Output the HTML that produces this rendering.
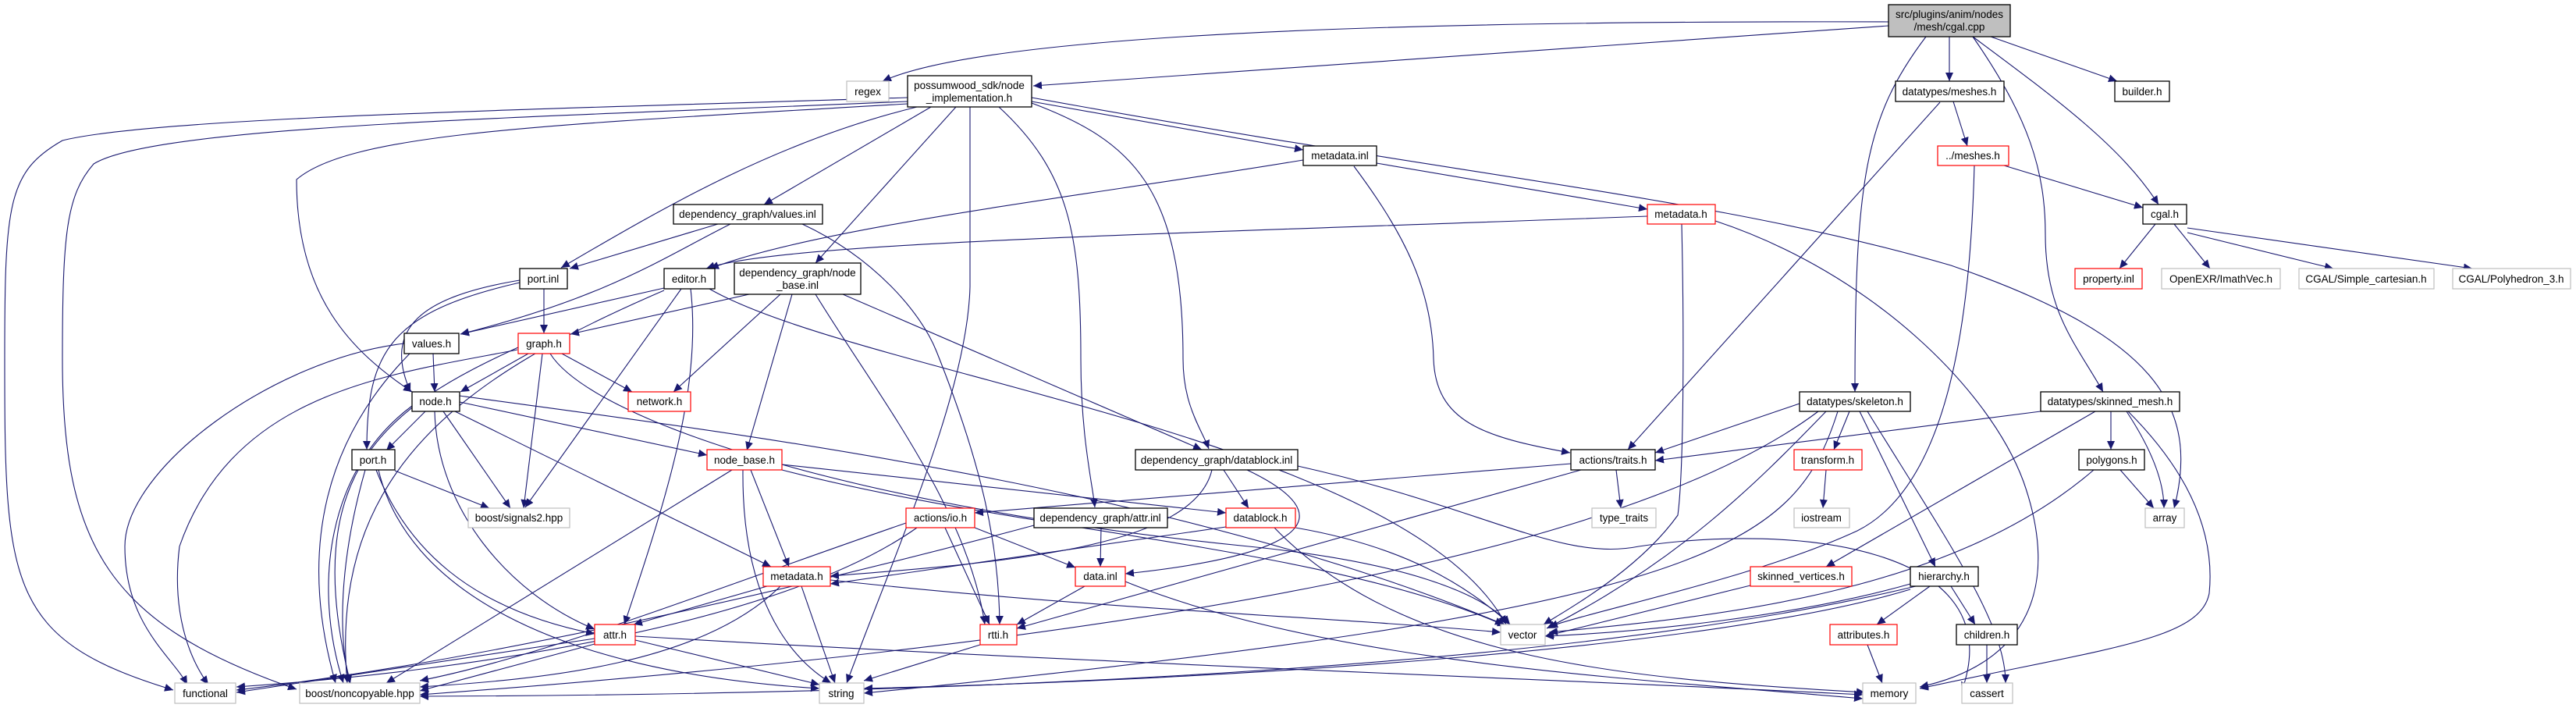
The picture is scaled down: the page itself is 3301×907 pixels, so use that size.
<!DOCTYPE html>
<html><head><meta charset="utf-8"><style>
html,body{margin:0;padding:0;background:#fff;}
svg{display:block;}
text{font-family:"Liberation Sans",sans-serif;font-size:13.5px;fill:#000;text-anchor:middle;}
.e{fill:none;stroke:#191970;stroke-width:1.1;marker-end:url(#a);}
.n{fill:#fff;stroke:#000;stroke-width:1.3;}
.r{fill:#fff;stroke:#ff0000;stroke-width:1.2;}
.g{fill:#fff;stroke:#bfbfbf;stroke-width:1.2;}
</style></head><body>
<svg width="3301" height="907" viewBox="0 0 3301 907" xmlns="http://www.w3.org/2000/svg">
<defs><marker id="a" markerUnits="userSpaceOnUse" markerWidth="12" markerHeight="10" refX="11" refY="5" orient="auto"><path d="M0,0 L11,5 L0,10 Z" fill="#191970"/></marker></defs>
<g>
<path class="e" d="M2420,28 C1700,26 1250,50 1131,104"/>
<path class="e" d="M2420,33 L1324,110"/>
<path class="e" d="M2498,47 L2498,104"/>
<path class="e" d="M2551,47 L2713,104"/>
<path class="e" d="M2528,47 C2640,130 2720,190 2766,262"/>
<path class="e" d="M2468,47 C2390,150 2377,230 2377,502"/>
<path class="e" d="M2528,47 C2600,150 2621,220 2621,300 C2621,400 2660,440 2695,502"/>
<path class="e" d="M2503,130 L2521,187"/>
<path class="e" d="M2486,131 L2086,576"/>
<path class="e" d="M2568,212 L2746,266"/>
<path class="e" d="M2530,212 C2525,400 2500,620 2380,680 C2250,740 2050,780 1985,803"/>
<path class="e" d="M2762,287 L2716,344"/>
<path class="e" d="M2786,287 L2832,344"/>
<path class="e" d="M2803,298 L2990,344"/>
<path class="e" d="M2803,292 L3168,344"/>
<path class="e" d="M1764,209 L2111,268"/>
<path class="e" d="M1670,205 C1400,250 1050,290 910,344"/>
<path class="e" d="M1735,213 C1800,300 1835,370 1837,460 C1840,540 1900,560 2012,580"/>
<path class="e" d="M2111,277 C1500,300 1000,310 905,344"/>
<path class="e" d="M2155,287 C2158,420 2158,600 2150,660 C2100,730 2010,780 1978,800"/>
<path class="e" d="M2198,283 C2400,350 2550,500 2593,617 C2640,750 2600,850 2460,880"/>
<path class="e" d="M1163,125 C700,140 200,150 80,180 C10,220 6,260 6,460 C6,750 10,820 222,884"/>
<path class="e" d="M1163,130 C700,150 200,160 120,210 C85,250 80,300 80,460 C80,700 140,800 380,883"/>
<path class="e" d="M1163,133 C700,160 450,170 380,230 C380,380 450,450 528,502"/>
<path class="e" d="M1243,137 L1243,367 C1240,500 1150,700 1085,875"/>
<path class="e" d="M1175,137 C1000,180 860,260 719,343"/>
<path class="e" d="M1193,137 L979,262"/>
<path class="e" d="M1225,137 L1045,337"/>
<path class="e" d="M1322,130 L1670,192"/>
<path class="e" d="M1322,132 C1450,180 1516,240 1516,460 C1516,520 1540,550 1549,575"/>
<path class="e" d="M1280,137 C1370,220 1385,300 1385,460 C1385,560 1400,620 1403,650"/>
<path class="e" d="M1322,125 C1900,230 2200,253 2500,340 C2761,430 2820,520 2786,651"/>
<path class="e" d="M920,287 L730,344"/>
<path class="e" d="M936,287 C850,330 780,380 590,428"/>
<path class="e" d="M1028,287 C1120,330 1180,400 1200,450 C1260,600 1280,700 1281,800"/>
<path class="e" d="M697,370 L697,427"/>
<path class="e" d="M666,359 C540,380 490,420 526,502"/>
<path class="e" d="M666,362 C500,400 470,450 470,576"/>
<path class="e" d="M851,369 L590,428"/>
<path class="e" d="M851,372 C600,480 420,600 445,875"/>
<path class="e" d="M873,370 L673,650"/>
<path class="e" d="M885,370 C900,500 850,650 800,800"/>
<path class="e" d="M909,370 C1100,480 1800,560 1930,800"/>
<path class="e" d="M960,377 L731,428"/>
<path class="e" d="M1000,377 L863,502"/>
<path class="e" d="M1015,377 L957,577"/>
<path class="e" d="M1045,377 C1120,500 1240,650 1262,800"/>
<path class="e" d="M1080,377 L1540,576"/>
<path class="e" d="M677,453 L590,502"/>
<path class="e" d="M720,453 L810,502"/>
<path class="e" d="M695,453 L671,651"/>
<path class="e" d="M664,445 C500,520 380,600 449,875"/>
<path class="e" d="M663,448 C500,480 300,500 230,700 C220,780 240,840 267,877"/>
<path class="e" d="M705,453 C760,540 1100,650 1600,700 C1800,720 1900,760 1935,800"/>
<path class="e" d="M555,453 L557,502"/>
<path class="e" d="M518,440 C350,460 160,600 160,700 C160,800 220,840 240,877"/>
<path class="e" d="M525,453 C420,560 380,700 430,875"/>
<path class="e" d="M545,527 L495,577"/>
<path class="e" d="M568,527 L654,651"/>
<path class="e" d="M528,520 C420,600 400,750 440,875"/>
<path class="e" d="M557,527 C560,650 650,760 762,806"/>
<path class="e" d="M583,527 L988,726"/>
<path class="e" d="M589,515 L906,583"/>
<path class="e" d="M589,507 C900,550 1500,620 1927,800"/>
<path class="e" d="M506,603 L627,651"/>
<path class="e" d="M468,602 C440,700 430,800 448,875"/>
<path class="e" d="M482,602 C520,700 600,780 762,812"/>
<path class="e" d="M485,602 C520,750 700,860 1050,882"/>
<path class="e" d="M938,602 L495,875"/>
<path class="e" d="M962,602 L1011,726"/>
<path class="e" d="M952,602 C950,800 1040,860 1065,875"/>
<path class="e" d="M1002,595 L1571,657"/>
<path class="e" d="M1002,602 C1300,680 1700,700 1930,802"/>
<path class="e" d="M983,751 L812,800"/>
<path class="e" d="M1027,751 L1070,875"/>
<path class="e" d="M1000,751 C900,850 700,870 538,880"/>
<path class="e" d="M1064,743 C1400,780 1700,790 1923,810"/>
<path class="e" d="M762,818 L303,887"/>
<path class="e" d="M762,825 L538,885"/>
<path class="e" d="M814,820 L1050,877"/>
<path class="e" d="M814,815 C1400,850 2000,870 2387,890"/>
<path class="e" d="M1256,826 L1107,872"/>
<path class="e" d="M1390,751 L1303,800"/>
<path class="e" d="M1442,745 C1700,850 2100,870 2387,895"/>
<path class="e" d="M1211,676 L1268,800"/>
<path class="e" d="M1249,676 L1378,727"/>
<path class="e" d="M1161,670 C900,760 700,840 538,872"/>
<path class="e" d="M1175,676 C1000,800 600,860 303,880"/>
<path class="e" d="M1411,676 L1410,726"/>
<path class="e" d="M1325,673 C1000,760 600,850 303,884"/>
<path class="e" d="M1571,675 L1064,748"/>
<path class="e" d="M1660,676 C1800,700 1880,750 1935,800"/>
<path class="e" d="M1633,676 C1800,850 2100,870 2390,887"/>
<path class="e" d="M1568,602 L1600,651"/>
<path class="e" d="M1598,602 C1720,660 1680,710 1442,735"/>
<path class="e" d="M1553,602 C1530,700 1300,720 1064,738"/>
<path class="e" d="M1663,597 C1900,650 2000,720 2100,700 C2300,670 2580,700 2514,885"/>
<path class="e" d="M2071,602 L2077,651"/>
<path class="e" d="M2013,594 L1249,657"/>
<path class="e" d="M2026,602 L1303,805"/>
<path class="e" d="M2306,517 L2121,580"/>
<path class="e" d="M2370,527 L2350,576"/>
<path class="e" d="M2383,527 L2480,726"/>
<path class="e" d="M2340,527 C2250,620 2150,720 1982,805"/>
<path class="e" d="M2330,527 C2100,700 1500,820 538,890"/>
<path class="e" d="M2355,527 C2300,700 2200,780 1107,888"/>
<path class="e" d="M2393,527 C2500,700 2570,800 2570,875"/>
<path class="e" d="M2615,527 L2121,590"/>
<path class="e" d="M2705,527 L2705,576"/>
<path class="e" d="M2725,527 C2760,580 2773,620 2773,651"/>
<path class="e" d="M2685,527 L2340,726"/>
<path class="e" d="M2727,527 C2820,620 2837,700 2831,760 C2820,820 2700,830 2460,882"/>
<path class="e" d="M2340,602 L2336,651"/>
<path class="e" d="M2717,602 L2760,651"/>
<path class="e" d="M2683,602 C2500,760 2200,790 1985,810"/>
<path class="e" d="M2243,750 L1980,815"/>
<path class="e" d="M2448,748 C2300,790 2100,810 1980,815"/>
<path class="e" d="M2473,751 L2405,800"/>
<path class="e" d="M2500,751 L2531,800"/>
<path class="e" d="M2448,755 C2200,830 1600,870 1107,882"/>
<path class="e" d="M2455,751 C2000,860 1200,890 538,892"/>
<path class="e" d="M2393,826 L2412,875"/>
<path class="e" d="M2546,826 L2546,875"/>
</g>
<rect x="2420" y="6" width="156" height="41" fill="#bfbfbf" stroke="#000" stroke-width="1.3"/>
<text x="2498" y="23">src/plugins/anim/nodes</text><text x="2498" y="39">/mesh/cgal.cpp</text>
<rect class="g" x="1085" y="104" width="54" height="26"/><text x="1112" y="122">regex</text>
<rect class="n" x="1163" y="97" width="159" height="40"/><text x="1242" y="114">possumwood_sdk/node</text><text x="1242" y="130">_implementation.h</text>
<rect class="n" x="2429" y="104" width="139" height="26"/><text x="2498" y="122">datatypes/meshes.h</text>
<rect class="n" x="2710" y="104" width="70" height="26"/><text x="2745" y="122">builder.h</text>
<rect class="r" x="2483" y="187" width="91" height="25"/><text x="2528" y="204">../meshes.h</text>
<rect class="n" x="1670" y="187" width="94" height="25"/><text x="1717" y="204">metadata.inl</text>
<rect class="r" x="2111" y="262" width="87" height="25"/><text x="2154" y="279">metadata.h</text>
<rect class="n" x="2746" y="262" width="56" height="25"/><text x="2774" y="279">cgal.h</text>
<rect class="n" x="863" y="262" width="191" height="25"/><text x="958" y="279">dependency_graph/values.inl</text>
<rect class="r" x="2659" y="344" width="86" height="26"/><text x="2702" y="362">property.inl</text>
<rect class="g" x="2770" y="344" width="152" height="26"/><text x="2846" y="362">OpenEXR/ImathVec.h</text>
<rect class="g" x="2946" y="344" width="173" height="26"/><text x="3032" y="362">CGAL/Simple_cartesian.h</text>
<rect class="g" x="3143" y="344" width="151" height="26"/><text x="3218" y="362">CGAL/Polyhedron_3.h</text>
<rect class="n" x="666" y="344" width="61" height="26"/><text x="696" y="362">port.inl</text>
<rect class="n" x="851" y="344" width="65" height="26"/><text x="883" y="362">editor.h</text>
<rect class="n" x="941" y="337" width="162" height="40"/><text x="1022" y="354">dependency_graph/node</text><text x="1022" y="370">_base.inl</text>
<rect class="n" x="518" y="427" width="70" height="26"/><text x="553" y="445">values.h</text>
<rect class="r" x="664" y="427" width="66" height="26"/><text x="697" y="445">graph.h</text>
<rect class="n" x="528" y="502" width="61" height="25"/><text x="558" y="519">node.h</text>
<rect class="r" x="805" y="502" width="80" height="25"/><text x="845" y="519">network.h</text>
<rect class="n" x="2306" y="502" width="142" height="25"/><text x="2377" y="519">datatypes/skeleton.h</text>
<rect class="n" x="2615" y="502" width="178" height="25"/><text x="2704" y="519">datatypes/skinned_mesh.h</text>
<rect class="n" x="451" y="576" width="55" height="26"/><text x="478" y="594">port.h</text>
<rect class="r" x="906" y="576" width="96" height="26"/><text x="954" y="594">node_base.h</text>
<rect class="n" x="1455" y="576" width="208" height="26"/><text x="1559" y="594">dependency_graph/datablock.inl</text>
<rect class="n" x="2013" y="576" width="108" height="26"/><text x="2067" y="594">actions/traits.h</text>
<rect class="r" x="2299" y="576" width="87" height="26"/><text x="2342" y="594">transform.h</text>
<rect class="n" x="2664" y="576" width="84" height="26"/><text x="2706" y="594">polygons.h</text>
<rect class="g" x="600" y="651" width="130" height="25"/><text x="665" y="668">boost/signals2.hpp</text>
<rect class="r" x="1161" y="651" width="88" height="25"/><text x="1205" y="668">actions/io.h</text>
<rect class="n" x="1325" y="651" width="171" height="25"/><text x="1410" y="668">dependency_graph/attr.inl</text>
<rect class="r" x="1571" y="651" width="89" height="25"/><text x="1615" y="668">datablock.h</text>
<rect class="g" x="2040" y="651" width="82" height="25"/><text x="2081" y="668">type_traits</text>
<rect class="g" x="2299" y="651" width="71" height="25"/><text x="2334" y="668">iostream</text>
<rect class="g" x="2749" y="651" width="50" height="25"/><text x="2774" y="668">array</text>
<rect class="r" x="978" y="726" width="86" height="25"/><text x="1021" y="743">metadata.h</text>
<rect class="r" x="1378" y="726" width="64" height="25"/><text x="1410" y="743">data.inl</text>
<rect class="r" x="2243" y="726" width="130" height="25"/><text x="2308" y="743">skinned_vertices.h</text>
<rect class="n" x="2448" y="726" width="87" height="25"/><text x="2491" y="743">hierarchy.h</text>
<rect class="r" x="762" y="800" width="52" height="26"/><text x="788" y="818">attr.h</text>
<rect class="r" x="1256" y="800" width="47" height="26"/><text x="1279" y="818">rtti.h</text>
<rect class="g" x="1923" y="800" width="57" height="26"/><text x="1951" y="818">vector</text>
<rect class="r" x="2345" y="800" width="86" height="26"/><text x="2388" y="818">attributes.h</text>
<rect class="n" x="2507" y="800" width="78" height="26"/><text x="2546" y="818">children.h</text>
<rect class="g" x="224" y="875" width="78" height="26"/><text x="263" y="893">functional</text>
<rect class="g" x="384" y="875" width="154" height="26"/><text x="461" y="893">boost/noncopyable.hpp</text>
<rect class="g" x="1050" y="875" width="57" height="26"/><text x="1078" y="893">string</text>
<rect class="g" x="2387" y="875" width="68" height="26"/><text x="2421" y="893">memory</text>
<rect class="g" x="2514" y="875" width="65" height="26"/><text x="2546" y="893">cassert</text>
</svg>
</body></html>
